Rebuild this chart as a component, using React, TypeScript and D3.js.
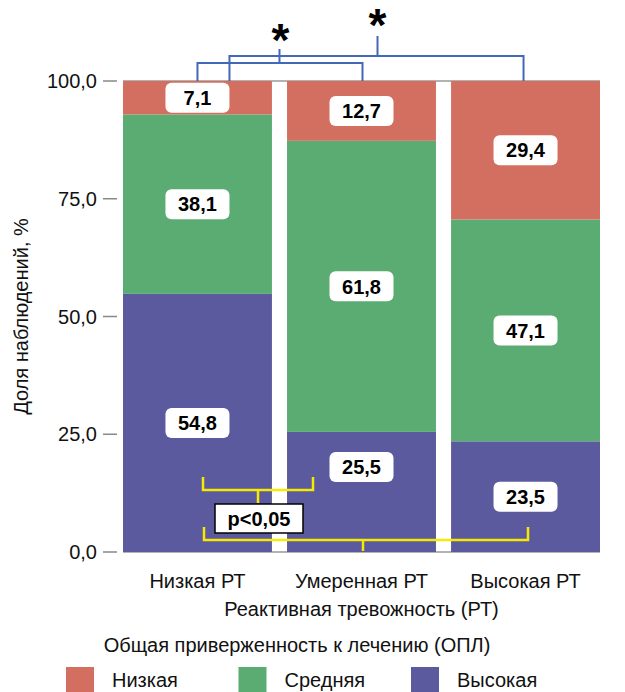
import React from 'react';
import * as d3 from 'd3';

const categories = ['Низкая РТ', 'Умеренная РТ', 'Высокая РТ'];
const seriesNames = ['Высокая', 'Средняя', 'Низкая'];
const high = [54.8, 25.5, 23.5];
const medium = [38.1, 61.8, 47.1];
const low = [7.1, 12.7, 29.4];
const yTicks = [0, 25, 50, 75, 100];
const legendOrder = ['Низкая', 'Средняя', 'Высокая'];

const colors: Record<string, string> = {
  'Низкая': '#d36f60',
  'Средняя': '#5bac73',
  'Высокая': '#5b5a9f',
};

const W = 625;
const H = 692;
const margin = { top: 81, right: 25, bottom: 140, left: 123 };
const font = '"Liberation Sans", Arial, sans-serif';

export default function App() {
  const x = d3.scaleBand().domain(categories).range([margin.left, W - margin.right]).paddingInner(0.092);
  const y = d3.scaleLinear().domain([0, 100]).range([H - margin.bottom, margin.top]);

  const table = categories.map((c, i) => ({ cat: c, 'Высокая': high[i], 'Средняя': medium[i], 'Низкая': low[i] }));
  const stacked = d3.stack<any>().keys(seriesNames)(table);
  const fmt = (v: number) => v.toFixed(1).replace('.', ',');

  const cx = (i: number) => (x(categories[i]) as number) + x.bandwidth() / 2;
  const blue = '#4169b8';
  const yellow = '#f5eb00';

  return (
    <svg width={W} height={H} style={{ position: 'absolute', left: 0, top: 0 }} fontFamily={font}>
      {/* baseline and top line */}
      <line x1={margin.left} x2={W - margin.right} y1={y(0)} y2={y(0)} stroke="#999" strokeWidth={1.5} />
      <line x1={margin.left} x2={W - margin.right} y1={y(100)} y2={y(100)} stroke="#999" strokeWidth={1.5} />
      {stacked.map((s) => (
        <g key={s.key} fill={colors[s.key]}>
          {s.map((d, i) => (
            <rect key={i} x={x(categories[i])} width={x.bandwidth()} y={y(d[1])} height={y(d[0]) - y(d[1])} />
          ))}
        </g>
      ))}
      {/* y axis */}
      {yTicks.map((t) => (
        <g key={t}>
          <line x1={103} x2={117} y1={y(t)} y2={y(t)} stroke="#888" strokeWidth={1.5} />
          <text x={97} y={y(t)} dy="0.35em" textAnchor="end" fontSize={20} fill="#111">{fmt(t)}</text>
        </g>
      ))}
      <text transform={`translate(28,${(y(0) + y(100)) / 2}) rotate(-90)`} textAnchor="middle" fontSize={20} fill="#111">
        Доля наблюдений, %
      </text>

      {/* value labels */}
      {stacked.map((s) => (
        <g key={s.key}>
          {s.map((d, i) => {
            let v = (d[0] + d[1]) / 2;
            if (s.key === 'Высокая' && i === 1) v += 5.3;
            const val = d[1] - d[0];
            return (
              <g key={i} transform={`translate(${cx(i)},${y(v)})`}>
                <rect x={-32} y={-15} width={64} height={30} rx={6} fill="#fff" />
                <text dy="0.36em" textAnchor="middle" fontSize={20} fontWeight="bold" fill="#000">{fmt(val)}</text>
              </g>
            );
          })}
        </g>
      ))}

      {/* blue significance brackets */}
      <g fill="none" stroke={blue} strokeWidth={2}>
        <path d={`M${cx(0)},${y(100)}V63H${cx(1) + 1}V${y(100)}`} />
        <path d={`M${(cx(0) + cx(1)) / 2},63V49`} />
        <path d={`M${cx(0) + 32},${y(100)}V56H${cx(2) - 2}V${y(100)}`} />
        <path d={`M${(cx(0) + 32 + cx(2)) / 2},56V36`} />
      </g>
      <text x={(cx(0) + cx(1)) / 2 + 1} y={56} textAnchor="middle" fontSize={46} fontWeight="bold">*</text>
      <text x={(cx(0) + 32 + cx(2)) / 2} y={41} textAnchor="middle" fontSize={46} fontWeight="bold">*</text>

      {/* yellow brackets */}
      <g fill="none" stroke={yellow} strokeWidth={2.5}>
        <path d="M203,477V490H313V477" />
        <path d="M258,490V503" />
        <path d="M204,527V540H528V527" />
        <path d="M363,540V551" />
      </g>
      <rect x={215} y={504} width={88} height={29} fill="#fff" stroke="#000" strokeWidth={1.5} />
      <text x={259} y={518.5} dy="0.36em" textAnchor="middle" fontSize={20} fontWeight="bold">p&lt;0,05</text>

      {/* x axis labels */}
      {categories.map((c, i) => (
        <text key={c} x={cx(i)} y={588} textAnchor="middle" fontSize={20} fill="#111">{c}</text>
      ))}
      <text x={cx(1)} y={616} textAnchor="middle" fontSize={20} fill="#111">Реактивная тревожность (РТ)</text>

      {/* legend */}
      <text x={297} y={652} textAnchor="middle" fontSize={20} fill="#111">Общая приверженность к лечению (ОПЛ)</text>
      {legendOrder.map((k, i) => (
        <g key={k} transform={`translate(${66 + i * 172.5},667)`}>
          <rect width={28} height={25} fill={colors[k]} />
          <text x={46} y={20} fontSize={20} fill="#111">{k}</text>
        </g>
      ))}
    </svg>
  );
}
